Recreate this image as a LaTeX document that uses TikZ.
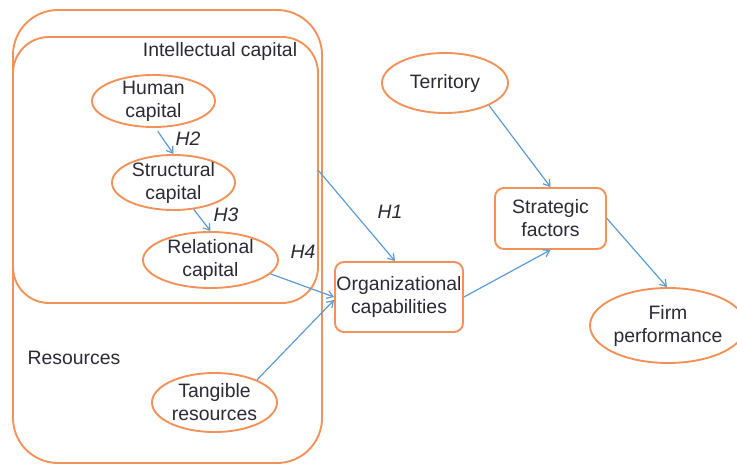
\documentclass[tikz,border=0pt]{standalone}
\usepackage{fontspec}
\setmainfont{Liberation Sans}
\usetikzlibrary{shapes.geometric,arrows.meta,calc}
\definecolor{boxorange}{HTML}{F29259}
\definecolor{linkblue}{HTML}{5B9BD5}
\definecolor{txtgray}{HTML}{2A2A36}
\tikzset{
  group/.style={draw=boxorange, line width=1.9pt, rectangle, inner sep=0pt, outer sep=0pt},
  construct/.style={draw=boxorange, line width=1.9pt, ellipse, inner xsep=0pt, inner ysep=-8pt, align=center, text=txtgray},
  factor/.style={draw=boxorange, line width=1.9pt, rectangle, rounded corners=9pt, inner sep=0pt, align=center, text=txtgray},
  link/.style={-{Straight Barb[length=6pt,width=8pt]}, draw=linkblue, line width=1.2pt},
  hyp/.style={text=txtgray, font=\itshape},
  title/.style={text=txtgray, anchor=base}
}
\begin{document}
\fontsize{19.4}{23}\selectfont
\begin{tikzpicture}[x=1pt, y=-1pt]
  \useasboundingbox (0,0) rectangle (737,465);
  \node[group, rounded corners=45pt, minimum width=309pt, minimum height=453pt] (res) at (167.5,236.5) {};
  \node[group, rounded corners=36pt, minimum width=305pt, minimum height=266pt] (intel) at (165.5,170) {};
  \node[title] (inteltxt) at (220,57) {Intellectual capital};
  \node[title] (restxt) at (74,365) {Resources};
  \node[construct, minimum width=123pt, minimum height=52pt] (human) at (153.5,101) {Human\\capital};
  \node[construct, minimum width=123pt, minimum height=55pt] (struct) at (173.5,182.5) {Structural\\capital};
  \node[construct, minimum width=135pt, minimum height=56pt] (relat) at (210.5,260) {Relational\\capital};
  \node[construct, minimum width=125pt, minimum height=59pt] (tangible) at (214.5,402.5) {Tangible\\resources};
  \node[construct, minimum width=126pt, minimum height=60pt] (territory) at (445,83) {Territory};
  \node[construct, minimum width=156pt, minimum height=75pt] (firm) at (668,325.5) {Firm\\performance};
  \node[factor, minimum width=128pt, minimum height=70pt] (orgcap) at (399,297) {Organizational\\capabilities};
  \node[factor, minimum width=111pt, minimum height=61pt] (strat) at (550.5,218.5) {Strategic\\factors};
  \draw[link, shorten <=4pt] ([xshift=2pt]human.south) -- (struct.north);
  \draw[link] (struct.-53) -- (relat.north);
  \draw[link] (relat.-13) -- (orgcap.west);
  \draw[link] (tangible.28) -- ([yshift=-3pt]orgcap.west);
  \draw[link] (intel.east) -- ([xshift=-4pt]orgcap.north);
  \draw[link] (territory.-27) -- (strat.north);
  \draw[link] (orgcap.east) -- (strat.south);
  \draw[link] (strat.east) -- ([xshift=-1pt]firm.north);
  \node[hyp] (h1) at (390,212) {H1};
  \node[hyp] (h2) at (188,139) {H2};
  \node[hyp] (h3) at (226,215) {H3};
  \node[hyp] (h4) at (303,252) {H4};
\end{tikzpicture}
\end{document}
